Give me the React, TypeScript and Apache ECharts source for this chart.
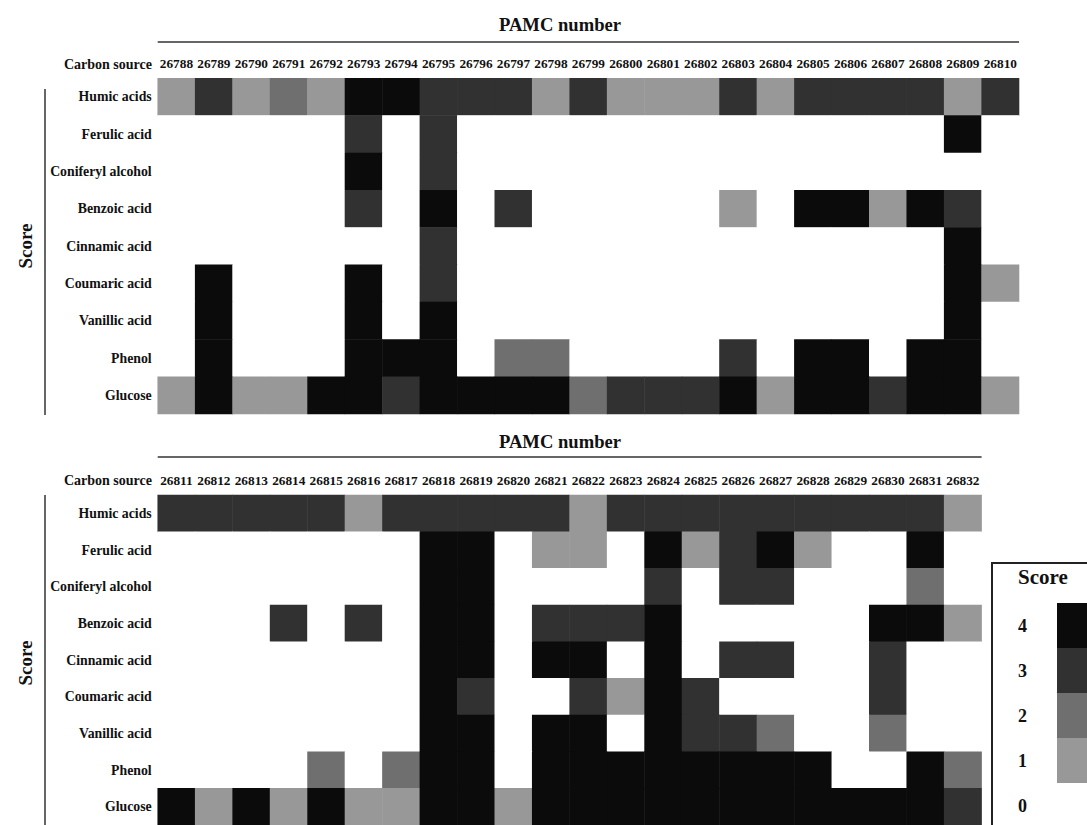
import React, { useEffect, useRef } from "react";
import * as echarts from "echarts";

const carbonSources = [
  "Humic acids",
  "Ferulic acid",
  "Coniferyl alcohol",
  "Benzoic acid",
  "Cinnamic acid",
  "Coumaric acid",
  "Vanillic acid",
  "Phenol",
  "Glucose",
];

const topStrains = [
  "26788", "26789", "26790", "26791", "26792", "26793", "26794", "26795",
  "26796", "26797", "26798", "26799", "26800", "26801", "26802", "26803",
  "26804", "26805", "26806", "26807", "26808", "26809", "26810",
];

const bottomStrains = [
  "26811", "26812", "26813", "26814", "26815", "26816", "26817", "26818",
  "26819", "26820", "26821", "26822", "26823", "26824", "26825", "26826",
  "26827", "26828", "26829", "26830", "26831", "26832",
];

// rows follow carbonSources, columns follow topStrains
const topScores = [
  [1, 3, 1, 2, 1, 4, 4, 3, 3, 3, 1, 3, 1, 1, 1, 3, 1, 3, 3, 3, 3, 1, 3],
  [0, 0, 0, 0, 0, 3, 0, 3, 0, 0, 0, 0, 0, 0, 0, 0, 0, 0, 0, 0, 0, 4, 0],
  [0, 0, 0, 0, 0, 4, 0, 3, 0, 0, 0, 0, 0, 0, 0, 0, 0, 0, 0, 0, 0, 0, 0],
  [0, 0, 0, 0, 0, 3, 0, 4, 0, 3, 0, 0, 0, 0, 0, 1, 0, 4, 4, 1, 4, 3, 0],
  [0, 0, 0, 0, 0, 0, 0, 3, 0, 0, 0, 0, 0, 0, 0, 0, 0, 0, 0, 0, 0, 4, 0],
  [0, 4, 0, 0, 0, 4, 0, 3, 0, 0, 0, 0, 0, 0, 0, 0, 0, 0, 0, 0, 0, 4, 1],
  [0, 4, 0, 0, 0, 4, 0, 4, 0, 0, 0, 0, 0, 0, 0, 0, 0, 0, 0, 0, 0, 4, 0],
  [0, 4, 0, 0, 0, 4, 4, 4, 0, 2, 2, 0, 0, 0, 0, 3, 0, 4, 4, 0, 4, 4, 0],
  [1, 4, 1, 1, 4, 4, 3, 4, 4, 4, 4, 2, 3, 3, 3, 4, 1, 4, 4, 3, 4, 4, 1],
];

// rows follow carbonSources, columns follow bottomStrains
const bottomScores = [
  [3, 3, 3, 3, 3, 1, 3, 3, 3, 3, 3, 1, 3, 3, 3, 3, 3, 3, 3, 3, 3, 1],
  [0, 0, 0, 0, 0, 0, 0, 4, 4, 0, 1, 1, 0, 4, 1, 3, 4, 1, 0, 0, 4, 0],
  [0, 0, 0, 0, 0, 0, 0, 4, 4, 0, 0, 0, 0, 3, 0, 3, 3, 0, 0, 0, 2, 0],
  [0, 0, 0, 3, 0, 3, 0, 4, 4, 0, 3, 3, 3, 4, 0, 0, 0, 0, 0, 4, 4, 1],
  [0, 0, 0, 0, 0, 0, 0, 4, 4, 0, 4, 4, 0, 4, 0, 3, 3, 0, 0, 3, 0, 0],
  [0, 0, 0, 0, 0, 0, 0, 4, 3, 0, 0, 3, 1, 4, 3, 0, 0, 0, 0, 3, 0, 0],
  [0, 0, 0, 0, 0, 0, 0, 4, 4, 0, 4, 4, 0, 4, 3, 3, 2, 0, 0, 2, 0, 0],
  [0, 0, 0, 0, 2, 0, 2, 4, 4, 0, 4, 4, 4, 4, 4, 4, 4, 4, 0, 0, 4, 2],
  [4, 1, 4, 1, 4, 1, 1, 4, 4, 1, 4, 4, 4, 4, 4, 4, 4, 4, 4, 4, 4, 3],
];

const scoreLevels = [0, 1, 2, 3, 4];
const scoreColors = ["#ffffff", "#989898", "#6f6f6f", "#313131", "#0b0b0b"];

const FONT = "'Liberation Serif', 'Times New Roman', serif";

export default function App() {
  const ref = useRef<HTMLDivElement>(null);

  useEffect(() => {
    if (!ref.current) return;
    const chart = echarts.init(ref.current, null, { renderer: "svg" });

    const toData = (m: number[][]) =>
      m.flatMap((row, r) => row.map((v, c) => [c, r, v]));

    const cellW = 37.45;
    const cellH = 37.3;
    const gridLeft = 157.7;
    const topGridTop = 78.3;
    const botGridTop = 495;

    const labelStyle = {
      fontFamily: FONT,
      fontWeight: "bold" as const,
      color: "#111",
    };

    const xAxisBase = {
      type: "category" as const,
      position: "top" as const,
      axisLine: { show: false },
      axisTick: { show: false },
      splitLine: { show: false },
      axisLabel: { ...labelStyle, fontSize: 13.3, interval: 0, margin: 8 },
    };
    const yAxisBase = {
      type: "category" as const,
      inverse: true,
      data: carbonSources,
      axisLine: { show: false },
      axisTick: { show: false },
      splitLine: { show: false },
      axisLabel: { ...labelStyle, fontSize: 13.8, interval: 0, margin: 6 },
    };

    const text = (
      t: string,
      x: number,
      y: number,
      size: number,
      align: string,
      rotation = 0
    ) => ({
      type: "text",
      x,
      y,
      rotation,
      silent: true,
      style: {
        text: t,
        x: 0,
        y: 0,
        fontFamily: FONT,
        fontWeight: "bold",
        fontSize: size,
        fill: "#111",
        align,
        verticalAlign: "middle",
      },
    });
    const line = (x1: number, y1: number, x2: number, y2: number) => ({
      type: "line",
      silent: true,
      shape: { x1, y1, x2, y2 },
      style: { stroke: "#333", lineWidth: 1.5 },
    });

    chart.setOption({
      animation: false,
      backgroundColor: "#ffffff",
      grid: [
        {
          left: gridLeft,
          top: topGridTop,
          width: cellW * topStrains.length,
          height: cellH * carbonSources.length,
        },
        {
          left: gridLeft,
          top: botGridTop,
          width: cellW * bottomStrains.length,
          height: cellH * carbonSources.length,
        },
      ],
      xAxis: [
        { ...xAxisBase, gridIndex: 0, data: topStrains },
        { ...xAxisBase, gridIndex: 1, data: bottomStrains },
      ],
      yAxis: [
        { ...yAxisBase, gridIndex: 0 },
        { ...yAxisBase, gridIndex: 1 },
      ],
      visualMap: {
        type: "piecewise",
        seriesIndex: [0, 1],
        pieces: scoreLevels.map((v, i) => ({
          value: v,
          label: String(v),
          color: scoreColors[i],
        })),
        orient: "vertical",
        align: "right",
        left: 1018,
        top: 603,
        padding: 0,
        itemWidth: 45,
        itemHeight: 45,
        itemGap: 0,
        textGap: 30,
        itemSymbol: "rect",
        selectedMode: false,
        hoverLink: false,
        textStyle: {
          fontFamily: FONT,
          fontWeight: "bold",
          fontSize: 18,
          color: "#111",
        },
      },
      series: [
        {
          type: "heatmap",
          xAxisIndex: 0,
          yAxisIndex: 0,
          data: toData(topScores),
          itemStyle: { borderWidth: 0 },
          emphasis: { disabled: true },
          silent: true,
        },
        {
          type: "heatmap",
          xAxisIndex: 1,
          yAxisIndex: 1,
          data: toData(bottomScores),
          itemStyle: { borderWidth: 0 },
          emphasis: { disabled: true },
          silent: true,
        },
      ],
      graphic: [
        text("PAMC number", 560, 24, 18.6, "center"),
        line(gridLeft, 42, gridLeft + cellW * topStrains.length, 42),
        text("Carbon source", 152, 64, 14, "right"),
        line(45, 89, 45, 415),
        text("Score", 25, 246, 19, "center", Math.PI / 2),

        text("PAMC number", 560, 441, 18.6, "center"),
        line(gridLeft, 457, gridLeft + cellW * bottomStrains.length, 457),
        text("Carbon source", 152, 480, 14, "right"),
        line(45, 495, 45, 825),
        text("Score", 25, 663, 19, "center", Math.PI / 2),

        {
          type: "rect",
          silent: true,
          shape: { x: 992, y: 563, width: 200, height: 400 },
          style: { fill: "none", stroke: "#222", lineWidth: 2 },
        },
        text("Score", 1018, 577, 21, "left"),
      ],
    });

    return () => chart.dispose();
  }, []);

  return (
    <div
      ref={ref}
      style={{
        position: "fixed",
        left: 0,
        top: 0,
        width: 1087,
        height: 825,
        background: "#fff",
      }}
    />
  );
}
